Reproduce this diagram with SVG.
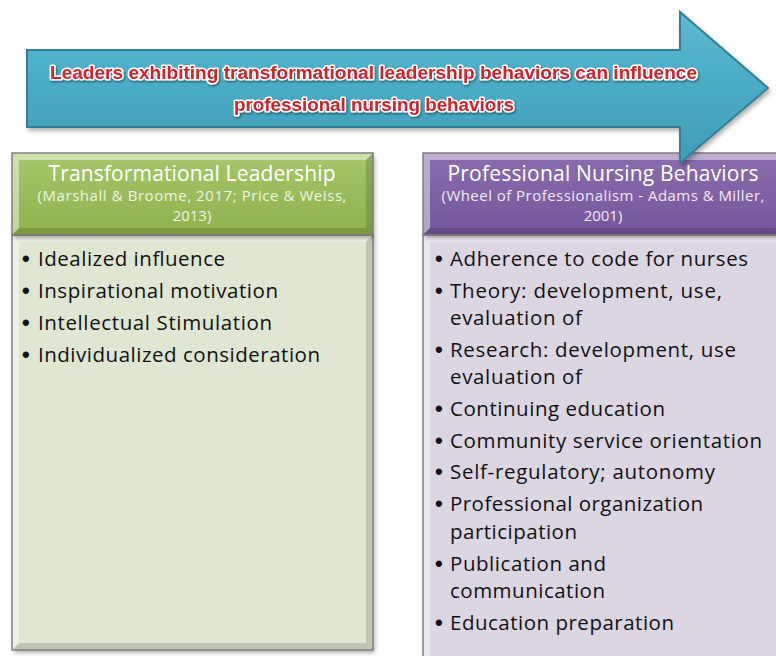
<svg xmlns="http://www.w3.org/2000/svg" width="776" height="656" viewBox="0 0 776 656">
<defs>
<linearGradient id="gArrow" x1="0" y1="0" x2="0" y2="1">
<stop offset="0" stop-color="#5cbad2"/><stop offset="0.5" stop-color="#4aabc5"/><stop offset="1" stop-color="#3f9db7"/>
</linearGradient>
<linearGradient id="gGreen" x1="0" y1="0" x2="0" y2="1">
<stop offset="0" stop-color="#a6c76a"/><stop offset="1" stop-color="#8fb14e"/>
</linearGradient>
<linearGradient id="gPurple" x1="0" y1="0" x2="0" y2="1">
<stop offset="0" stop-color="#8a6daf"/><stop offset="1" stop-color="#74579a"/>
</linearGradient>
<filter id="shadow" x="-5%" y="-5%" width="115%" height="120%">
<feDropShadow dx="2" dy="3" stdDeviation="2" flood-color="#000" flood-opacity="0.3"/>
</filter>
<filter id="glow" x="-5%" y="-30%" width="110%" height="160%">
<feDropShadow dx="1" dy="1.5" stdDeviation="1" flood-color="#000" flood-opacity="0.45"/>
</filter>
</defs>
<style>
.banner{font-family:"Liberation Sans",Arial,sans-serif;font-weight:bold;font-size:18px;fill:#d4202a;stroke:#ffffff;stroke-width:3.2px;paint-order:stroke;stroke-linejoin:round}
.htitle{font-family:"Open Sans","Liberation Sans",sans-serif;font-size:21px;fill:#ffffff;text-anchor:middle}
.hsub{font-family:"Open Sans","Liberation Sans",sans-serif;font-size:15px;text-anchor:middle}
.gsub{fill:#eef4e2}
.psub{fill:#f0eaf7}
.item{font-family:"Open Sans","Liberation Sans",sans-serif;font-size:20.5px;fill:#111111}
.bul{font-family:"Liberation Sans",sans-serif;font-size:22px;font-weight:bold;fill:#111111}
.hl{fill:#ffffff;fill-opacity:0.45}
.dk{fill:#000000;fill-opacity:0.14}
.edge{fill:none;stroke:#7f7f7f;stroke-width:1.5}
</style>

<g id="left-body">
<rect x="12" y="235" width="361" height="415" fill="#dfe6d1" filter="url(#shadow)"/>
<polygon class="hl" points="12,235 373,235 366,242 19,242"/>
<polygon class="hl" points="12,235 19,242 19,643 12,650"/>
<polygon class="dk" points="373,235 373,650 366,643 366,242"/>
<polygon class="dk" points="12,650 373,650 366,643 19,643"/>
<rect class="edge" x="12" y="235" width="361" height="415"/>
<text class="bul" x="22" y="266">•</text><text class="item" x="38" y="266" textLength="187">Idealized influence</text>
<text class="bul" x="22" y="298">•</text><text class="item" x="38" y="298" textLength="240">Inspirational motivation</text>
<text class="bul" x="22" y="330">•</text><text class="item" x="38" y="330" textLength="234">Intellectual Stimulation</text>
<text class="bul" x="22" y="362">•</text><text class="item" x="38" y="362" textLength="282">Individualized consideration</text>
</g>

<g id="right-body">
<rect x="423" y="235" width="362" height="430" fill="#dcd6e3" filter="url(#shadow)"/>
<polygon class="hl" points="423,235 785,235 778,242 430,242"/>
<polygon class="hl" points="423,235 430,242 430,665 423,665"/>
<rect class="edge" x="423" y="235" width="362" height="430"/>
<text class="bul" x="435" y="266">•</text><text class="item" x="450" y="266" textLength="298">Adherence to code for nurses</text>
<text class="bul" x="435" y="298">•</text><text class="item" x="450" y="298" textLength="272">Theory: development, use,</text>
<text class="item" x="450" y="325" textLength="132">evaluation of</text>
<text class="bul" x="435" y="357">•</text><text class="item" x="450" y="357" textLength="286">Research: development, use</text>
<text class="item" x="450" y="384" textLength="132">evaluation of</text>
<text class="bul" x="435" y="416">•</text><text class="item" x="450" y="416" textLength="215">Continuing education</text>
<text class="bul" x="435" y="448">•</text><text class="item" x="450" y="448" textLength="312">Community service orientation</text>
<text class="bul" x="435" y="479">•</text><text class="item" x="450" y="479" textLength="265">Self-regulatory; autonomy</text>
<text class="bul" x="435" y="511">•</text><text class="item" x="450" y="511" textLength="253">Professional organization</text>
<text class="item" x="450" y="539" textLength="127">participation</text>
<text class="bul" x="435" y="571">•</text><text class="item" x="450" y="571" textLength="156">Publication and</text>
<text class="item" x="450" y="598" textLength="155">communication</text>
<text class="bul" x="435" y="630">•</text><text class="item" x="450" y="630" textLength="224">Education preparation</text>
</g>

<g id="left-header">
<rect x="12" y="153" width="361" height="82" fill="url(#gGreen)" filter="url(#shadow)"/>
<polygon class="hl" points="12,153 373,153 366,160 19,160"/>
<polygon class="hl" points="12,153 19,160 19,228 12,235"/>
<polygon class="dk" points="373,153 373,235 366,228 366,160"/>
<polygon class="dk" points="12,235 373,235 366,228 19,228"/>
<rect class="edge" x="12" y="153" width="361" height="82" stroke="#7a9a40"/>
<text class="htitle" x="192" y="181" textLength="287">Transformational Leadership</text>
<text class="hsub gsub" x="192" y="201" textLength="309">(Marshall &amp; Broome, 2017; Price &amp; Weiss,</text>
<text class="hsub gsub" x="192" y="221">2013)</text>
</g>

<g id="right-header">
<rect x="423" y="153" width="362" height="82" fill="url(#gPurple)" filter="url(#shadow)"/>
<polygon class="hl" points="423,153 785,153 778,160 430,160"/>
<polygon class="hl" points="423,153 430,160 430,228 423,235"/>
<polygon class="dk" points="423,235 785,235 778,228 430,228"/>
<rect class="edge" x="423" y="153" width="362" height="82" stroke="#5e4580"/>
<text class="htitle" x="603" y="181" textLength="311">Professional Nursing Behaviors</text>
<text class="hsub psub" x="603" y="201" textLength="323">(Wheel of Professionalism - Adams &amp; Miller,</text>
<text class="hsub psub" x="603" y="221">2001)</text>
</g>

<g id="arrow-banner">
<polygon points="27,50 680,50 680,12 768,88 680,163 680,127 27,127" fill="url(#gArrow)" stroke="#357f94" stroke-width="2" stroke-linejoin="miter" filter="url(#shadow)"/>
<g filter="url(#glow)">
<text class="banner" x="50" y="79" textLength="647" lengthAdjust="spacingAndGlyphs">Leaders exhibiting transformational leadership behaviors can influence</text>
<text class="banner" x="234" y="111" textLength="280" lengthAdjust="spacingAndGlyphs">professional nursing behaviors</text>
</g>
</g>

<g id="connectors"></g>
</svg>
